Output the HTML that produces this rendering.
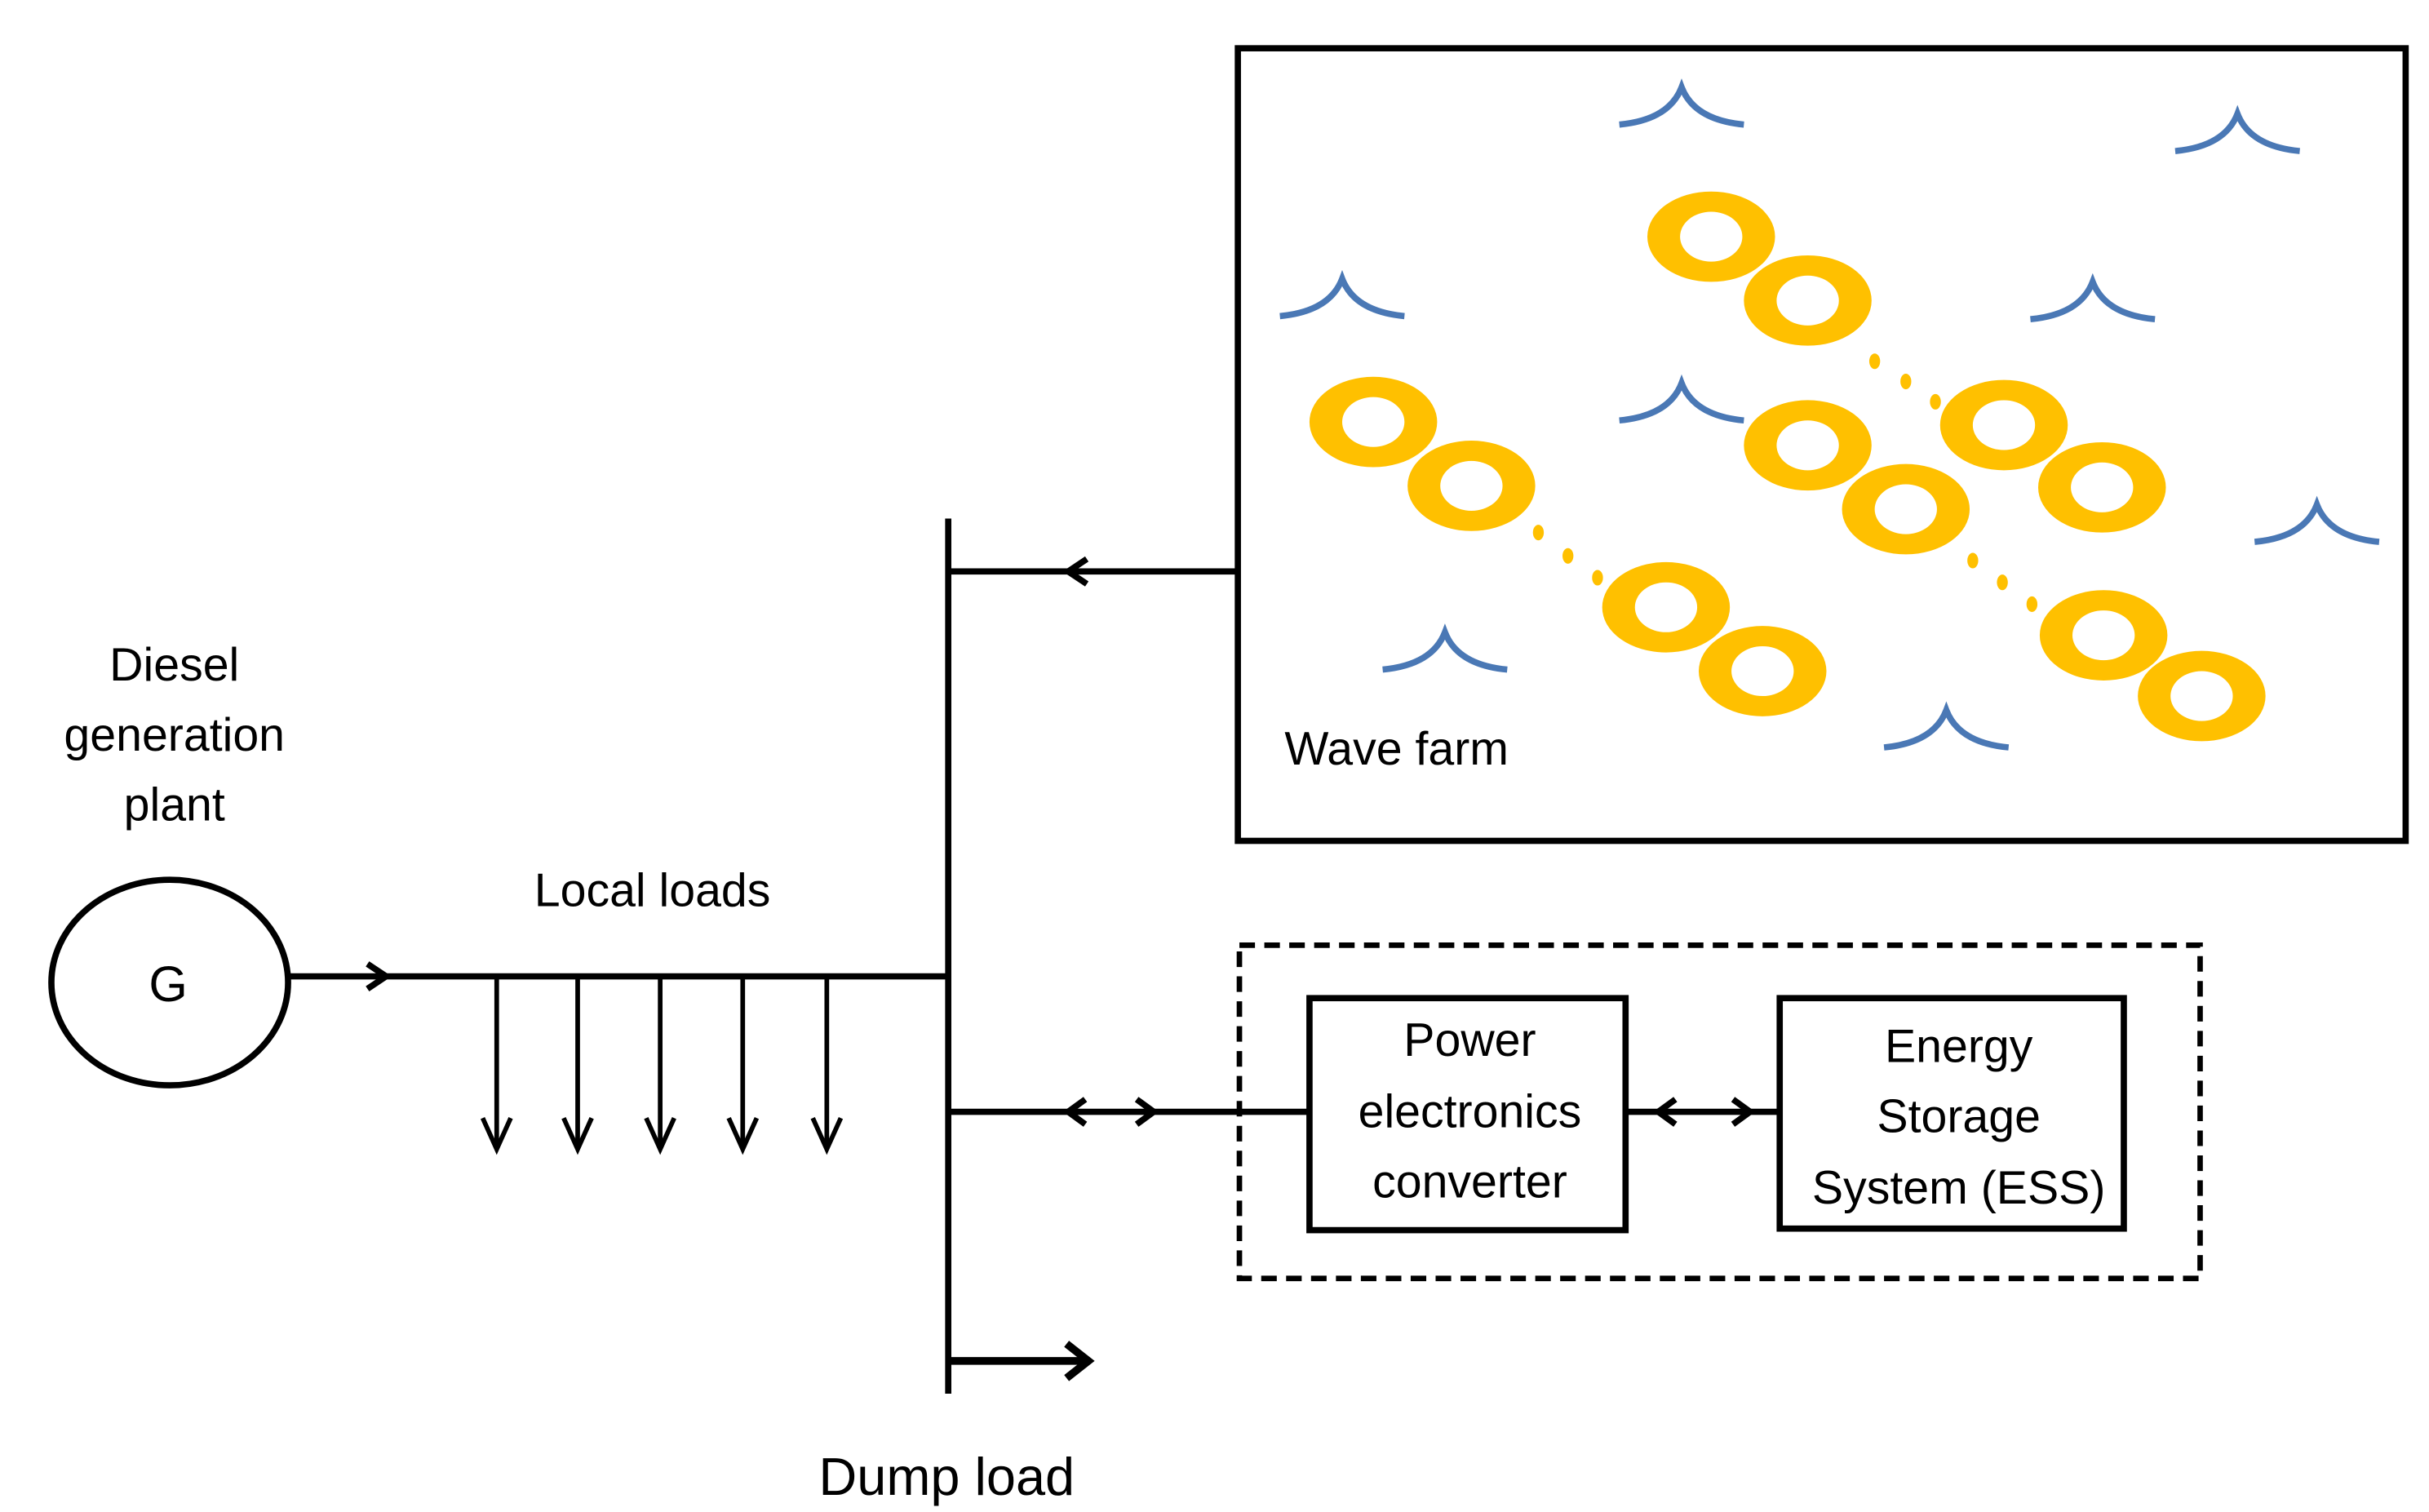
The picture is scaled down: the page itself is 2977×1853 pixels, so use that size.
<!DOCTYPE html>
<html><head><meta charset="utf-8"><style>html,body{margin:0;padding:0;background:#fff}svg{display:block}</style></head>
<body>
<svg width="2977" height="1853" viewBox="0 0 1560 971" xmlns="http://www.w3.org/2000/svg" font-family="Liberation Sans, sans-serif">
<defs>
<g id="ring"><path fill="#FFC000" fill-rule="evenodd" d="M-41,0 a41,29 0 1,0 82,0 a41,29 0 1,0 -82,0 Z M-20,0 a20,16 0 1,0 40,0 a20,16 0 1,0 -40,0 Z"/></g>
<path id="wave" d="M-40,0 Q-8,-3 0,-24 Q8,-3 40,0" fill="none" stroke="#4a78b5" stroke-width="4"/>
</defs>
<rect x="795" y="31" width="750" height="509" fill="none" stroke="#000" stroke-width="4"/>
<use href="#wave" x="1080" y="80"/><use href="#wave" x="1437" y="97"/><use href="#wave" x="862" y="203"/>
<use href="#wave" x="1344" y="205"/><use href="#wave" x="1080" y="270"/><use href="#wave" x="1488" y="348"/>
<use href="#wave" x="928" y="430"/><use href="#wave" x="1250" y="480"/>
<use href="#ring" x="1099" y="152"/><use href="#ring" x="1161" y="193"/>
<use href="#ring" x="1287" y="273"/><use href="#ring" x="1350" y="313"/>
<use href="#ring" x="1161" y="286"/><use href="#ring" x="1224" y="327"/>
<use href="#ring" x="1351" y="408"/><use href="#ring" x="1414" y="447"/>
<use href="#ring" x="882" y="271"/><use href="#ring" x="945" y="312"/>
<use href="#ring" x="1070" y="390"/><use href="#ring" x="1132" y="431"/>
<g fill="#FFC000">
<ellipse cx="1204" cy="232" rx="3.5" ry="5"/><ellipse cx="1224" cy="245" rx="3.5" ry="5"/><ellipse cx="1243" cy="258" rx="3.5" ry="5"/>
<ellipse cx="988" cy="342" rx="3.5" ry="5"/><ellipse cx="1007" cy="357" rx="3.5" ry="5"/><ellipse cx="1026" cy="371" rx="3.5" ry="5"/>
<ellipse cx="1267" cy="360" rx="3.5" ry="5"/><ellipse cx="1286" cy="374" rx="3.5" ry="5"/><ellipse cx="1305" cy="388" rx="3.5" ry="5"/>
</g>
<text x="825" y="491" font-size="30">Wave farm</text>
<line x1="609" y1="333" x2="609" y2="895" stroke="#000" stroke-width="4"/>
<line x1="609" y1="367" x2="795" y2="367" stroke="#000" stroke-width="4"/>
<path d="M698,359 L686,367 L698,375" fill="none" stroke="#000" stroke-width="4"/>
<ellipse cx="109" cy="631" rx="76" ry="66" fill="none" stroke="#000" stroke-width="4"/>
<text x="108" y="643" font-size="32" text-anchor="middle">G</text>
<text x="112" y="437" font-size="30" text-anchor="middle">Diesel</text>
<text x="112" y="482" font-size="30" text-anchor="middle">generation</text>
<text x="112" y="527" font-size="30" text-anchor="middle">plant</text>
<line x1="185" y1="627" x2="609" y2="627" stroke="#000" stroke-width="4"/>
<path d="M236,619 L248,627 L236,635" fill="none" stroke="#000" stroke-width="4"/>
<text x="419" y="582" font-size="30" text-anchor="middle">Local loads</text>
<g stroke="#000" stroke-width="3" fill="none">
<line x1="319" y1="627" x2="319" y2="738"/><path d="M310,718 L319,738 L328,718"/>
<line x1="371" y1="627" x2="371" y2="738"/><path d="M362,718 L371,738 L380,718"/>
<line x1="424" y1="627" x2="424" y2="738"/><path d="M415,718 L424,738 L433,718"/>
<line x1="477" y1="627" x2="477" y2="738"/><path d="M468,718 L477,738 L486,718"/>
<line x1="531" y1="627" x2="531" y2="738"/><path d="M522,718 L531,738 L540,718"/>
</g>
<line x1="609" y1="714" x2="841" y2="714" stroke="#000" stroke-width="4"/>
<path d="M697,706 L686,714 L697,722 M730,706 L741,714 L730,722" fill="none" stroke="#000" stroke-width="4"/>
<rect x="796" y="607" width="617" height="214" fill="none" stroke="#000" stroke-width="3.5" stroke-dasharray="10,6"/>
<rect x="841" y="641" width="203" height="149" fill="none" stroke="#000" stroke-width="4"/>
<text x="944" y="678" font-size="30" text-anchor="middle">Power</text>
<text x="944" y="724" font-size="30" text-anchor="middle">electronics</text>
<text x="944" y="769" font-size="30" text-anchor="middle">converter</text>
<line x1="1044" y1="714" x2="1143" y2="714" stroke="#000" stroke-width="4"/>
<path d="M1076,706 L1065,714 L1076,722 M1113,706 L1124,714 L1113,722" fill="none" stroke="#000" stroke-width="4"/>
<rect x="1143" y="641" width="221" height="148" fill="none" stroke="#000" stroke-width="4"/>
<text x="1258" y="682" font-size="30" text-anchor="middle">Energy</text>
<text x="1258" y="727" font-size="30" text-anchor="middle">Storage</text>
<text x="1258" y="773" font-size="30" text-anchor="middle">System (ESS)</text>
<line x1="609" y1="874" x2="698" y2="874" stroke="#000" stroke-width="5"/>
<path d="M685,863 L699,874 L685,885" fill="none" stroke="#000" stroke-width="5"/>
<text x="608" y="960" font-size="34" text-anchor="middle">Dump load</text>
</svg>
</body></html>
